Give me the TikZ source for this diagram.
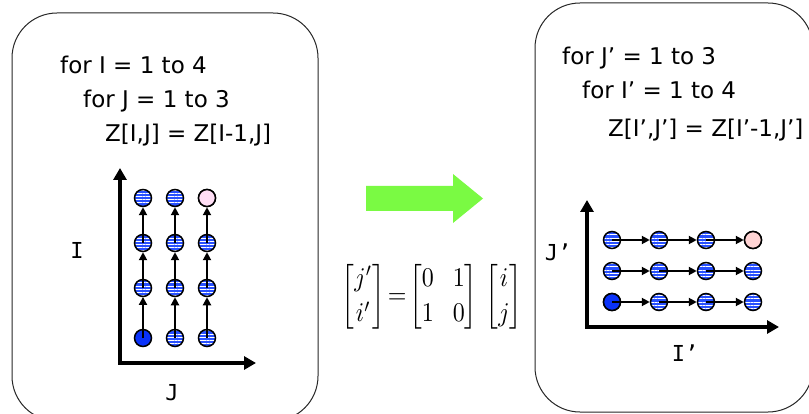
\documentclass[tikz,border=0pt]{standalone}
\usepackage{amsmath}
\usepackage{fontspec}
\setmainfont{DejaVu Sans}
\newfontfamily\labfont{DejaVu Sans Mono}
\usetikzlibrary{arrows.meta,patterns.meta}
\definecolor{solidblue}{RGB}{10,50,250}
\definecolor{stripeblue}{RGB}{40,80,255}
\definecolor{pinkA}{RGB}{255,222,245}
\definecolor{pinkB}{RGB}{255,212,212}
\definecolor{arrowgreen}{RGB}{122,250,67}
\begin{document}
\begin{tikzpicture}[x=1pt,y=-1pt,
  dot/.style={circle, draw=black, line width=1.5pt, minimum size=17pt, inner sep=0pt},
  striped/.style={dot, preaction={fill=stripeblue}, pattern={Lines[distance=3.2pt,angle=0,line width=0.9pt]}, pattern color=white},
  soliddot/.style={dot, fill=solidblue},
  pinkdot/.style={dot, fill=#1},
  dep/.style={line width=2.2pt, -{Triangle[length=8pt,width=8pt]}},
  axis/.style={line width=3.8pt, line join=miter, {Triangle[length=12pt,width=13pt]}-{Triangle[length=12pt,width=13pt]}},
  box/.style={draw=black!85, line width=1pt, rounded corners=45pt},
  code/.style={anchor=base west, font=\fontsize{23}{27}\selectfont, inner sep=0pt},
  lab/.style={font=\labfont\fontsize{22}{26}\selectfont, inner sep=0pt}]
\useasboundingbox (0,0) rectangle (809,414);
\clip (0,0) rectangle (809,414);

% boxes
\draw[box] (12,13) rectangle (318,421);
\draw[box] (535,3) rectangle (813,412);

% left code
\node[code] (l1) at (60,74) {for I = 1 to 4};
\node[code] (l2) at (83,108) {for J = 1 to 3};
\node[code] (l3) at (105,142) {Z[I,J] = Z[I-1,J]};

% right code
\node[code] (r1) at (562,65) {for J’ = 1 to 3};
\node[code] (r2) at (582,99) {for I’ = 1 to 4};
\node[code] (r3) at (608,137) {Z[I’,J’] = Z[I’-1,J’]};

% left axes
\coordinate (LTop) at (120,168);
\coordinate (LRight) at (256,363);
\draw[axis] (LTop) |- (LRight);
\node[lab] (labI) at (77,250) {I};
\node[lab] (labJ) at (172,393) {J};

% left grid
\foreach \j/\x in {1/143,2/175,3/207}{
  \foreach \i/\y in {2/288,3/243,4/198}{
    \node[striped] (L\i\j) at (\x,\y) {};
  }
}
\node[soliddot] (L11) at (143,338) {};
\node[striped] (L12) at (175,338) {};
\node[striped] (L13) at (207,338) {};
\node[pinkdot=pinkA] (L43) at (207,198) {};
\foreach \j in {1,2,3}{
  \foreach \i/\k in {1/2,2/3,3/4}{
    \draw[dep] (L\i\j.center) -- (L\k\j.south);
  }
}

% green arrow
\fill[arrowgreen] (366,186) -- (453,186) -- (453,174) -- (483,198.5) -- (453,223) -- (453,211) -- (366,211) -- cycle;

% equation
\node (eq) at (432,297) {\scalebox{2.4}[2.7]{\renewcommand{\arraystretch}{1.1}\setlength{\arraycolsep}{4pt}$\begin{bmatrix} j'\\ i'\end{bmatrix}\!=\!\begin{bmatrix}0&1\\1&0\end{bmatrix}\,\begin{bmatrix}i\\ j\end{bmatrix}$}};

% right axes
\coordinate (RTop) at (587,200);
\coordinate (RRight) at (779,327);
\draw[axis] (RTop) |- (RRight);
\node[lab] (labJp) at (558,252) {J’};
\node[lab] (labIp) at (685,353) {I’};

% right grid
\foreach \c/\x in {1/612,2/659,3/706,4/753}{
  \foreach \r/\y in {1/302,2/271,3/240}{
    \node[striped] (R\r\c) at (\x,\y) {};
  }
}
\node[soliddot] (R11) at (612,302) {};
\node[pinkdot=pinkB] (R34) at (753,240) {};
\foreach \r in {1,2,3}{
  \foreach \c/\d in {1/2,2/3,3/4}{
    \draw[dep] (R\r\c.center) -- (R\r\d.west);
  }
}
\end{tikzpicture}
\end{document}
